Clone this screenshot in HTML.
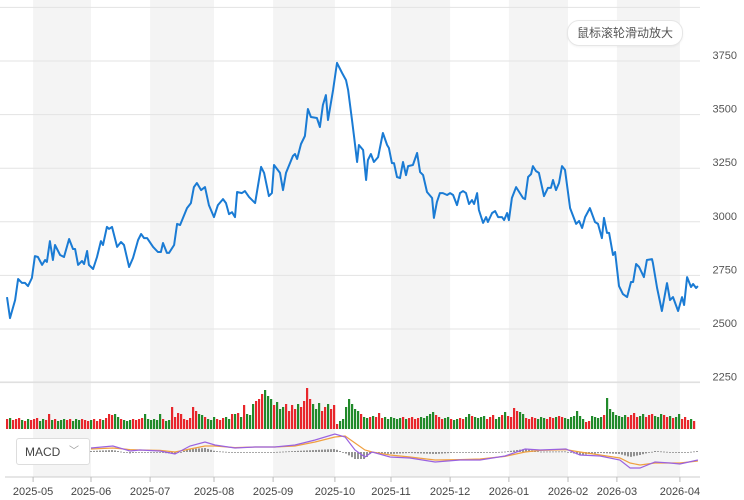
<!DOCTYPE html>
<html><head><meta charset="utf-8">
<style>
html,body{margin:0;padding:0;background:#fff;}
body{width:744px;height:500px;overflow:hidden;position:relative;font-family:"Liberation Sans","Noto Sans CJK SC",sans-serif;}
#zoom-hint{position:absolute;left:567px;top:20px;width:114px;height:24px;border:1px solid #e6e6e6;border-radius:12px;background:#fff;font-size:12px;color:#555;line-height:24px;text-align:center;box-shadow:0 1px 2px rgba(0,0,0,0.05);}
#macd-select{position:absolute;left:16px;top:438px;width:74px;height:27px;border:1px solid #ddd;border-radius:3px;background:#fff;font-size:12px;color:#444;line-height:27px;box-sizing:border-box;padding-left:8px;}
#macd-select span.chev{position:absolute;left:52px;top:-1px;color:#999;font-size:10px;}
</style></head>
<body>
<svg id="chart" width="744" height="500" style="position:absolute;left:0;top:0"></svg>
<div id="zoom-hint">鼠标滚轮滑动放大</div>
<div id="macd-select">MACD<span class="chev">﹀</span></div>
<script>
const monthLabels=["2025-05","2025-06","2025-07","2025-08","2025-09","2025-10","2025-11","2025-12","2026-01","2026-02","2026-03","2026-04"];
const monthDays=[8.7,28,47.7,69,88.7,109.3,128,147.7,167.3,187,203.3,224.3];
const priceTicks=[4000,3750,3500,3250,3000,2750,2500,2250];
const priceDays=[0,1,2.7,3.7,5,6,7,8.3,9.3,10.3,11.7,12.7,13.3,14.3,15.3,16,17.7,19,20.7,22,22.7,23.7,25,25.7,26.7,27.3,28.7,30,31.3,32,33.3,34,35,36.7,38,39,40.7,42,43.7,44.7,45.7,46.7,48.7,50.3,51.3,52,53.3,54,55.7,56.7,57.7,60,61.3,62.3,63.3,64.7,66,67.3,69,70.3,72,73,74,75,76,76.7,78.3,79.3,80.7,
82.7,84.7,85.7,87.3,88.3,89,91,92,93,95.3,96,96.7,98,99.3,100.3,101.3,103.3,104.3,105.3,106.3,107,108.7,110,111.7,113,113.7,115,115.7,116.7,117.3,118.7,119.7,120.3,121.3,122.3,123.7,125.3,126.7,127.3,128.3,129,130,131,132,133,133.7,135.3,136.7,137.7,138.7,140,141.7,142.3,143.3,144.3,145.3,146.7,147.7,148.7,150,151,152,153,154,155,155.7,156.7,157.3,158.7,159.7,160.3,
161.7,162.7,163.7,165,165.7,166.7,167.3,168.3,169.7,172,172.7,173.7,174.7,175.3,176.3,177.3,179,180.3,181.3,182,183,184,185,186,187.7,189.7,190.7,191.7,192.7,194.3,196,197,198.3,199,200,200.7,202,202.7,204,205.3,206.7,208,208.7,209.7,210.7,212.3,213.3,215,215.3,216.7,218.3,220,221,222,223.7,225,225.7,226.7,228,228.7,229.7,230.3];
const priceValues=[2649,2551,2635,2733,2715,2715,2700,2738,2840,2836,2799,2822,2813,2910,2822,2892,2845,2836,2920,2873,2873,2799,2817,2803,2864,2799,2780,2836,2910,2892,2976,2967,2976,2883,2906,2892,2789,2831,2915,2943,2924,2924,2883,2859,2859,2901,2855,2855,2892,2990,2985,3064,3087,3162,3181,3148,3162,3078,3022,3078,3106,3087,3036,3045,3022,3139,3134,3143,3115,
3087,3256,3228,3120,3134,3265,3228,3148,3228,3307,3316,3293,3363,3400,3526,3489,3484,3442,3545,3591,3475,3615,3741,3694,3661,3615,3475,3396,3279,3358,3335,3195,3288,3316,3279,3302,3414,3358,3344,3274,3274,3209,3204,3279,3218,3260,3265,3321,3232,3218,3139,3111,3018,3092,3134,3134,3125,3134,3125,3078,3134,3143,3134,3083,3101,3083,3134,3055,2995,3022,2999,
3041,3050,3022,3022,3008,3041,3008,3111,3162,3111,3106,3209,3223,3260,3237,3228,3120,3158,3158,3195,3148,3181,3260,3242,3064,2990,3004,2971,3022,3064,2999,2990,2924,3018,2948,2948,2845,2859,2700,2663,2649,2719,2719,2803,2789,2742,2822,2826,2808,2691,2584,2714,2635,2649,2584,2649,2612,2742,2696,2710,2691,2700];
const volumeValues=[10,11,9,10,11,9,8,10,9,10,11,8,10,9,15,9,10,8,9,10,9,10,8,10,9,10,9,8,9,10,8,10,9,11,15,14,15,12,10,9,8,9,10,9,10,11,15,10,9,10,9,15,10,8,9,22,12,16,15,10,9,11,22,18,15,14,12,10,9,12,10,9,11,12,10,15,15,16,12,24,15,14,25,28,30,35,39,33,30,24,27,20,22,25,18,24,20,25,22,28,41,30,25,20,26,18,22,25,20,24,5,8,10,22,30,25,20,18,15,12,11,12,13,12,16,11,12,10,12,11,10,11,12,10,11,12,10,11,12,11,13,15,17,14,12,10,11,12,10,9,10,11,10,12,15,13,12,11,12,13,10,12,14,10,12,14,17,13,12,21,18,17,15,11,10,12,11,10,12,11,10,12,11,12,13,12,11,10,12,13,18,13,10,7,8,13,12,11,12,14,31,20,17,14,13,12,14,12,14,16,12,13,15,12,14,15,13,12,15,14,12,13,11,12,15,10,12,9,10,8];
const macdDays=[28,35.3,41,44.3,51,56,61,66,69.3,76,82.7,89.3,96,102.7,109.3,112.7,116,119.3,121.7,127.7,134.3,142.7,151,157.7,166,172.7,177.7,186.3,191,197.7,204.3,207.7,211,216,221,224.3,230.3];
const difValues=[20,30,5,10,5,-10,30,50,35,20,25,25,35,60,90,75,10,-25,0,-25,-30,-50,-40,-40,-20,15,10,15,-15,-20,-40,-80,-80,-50,-55,-60,-40];
const deaValues=[15,20,12,10,8,0,15,30,30,22,25,25,30,50,75,80,45,10,0,-15,-25,-40,-38,-35,-22,0,8,12,0,-15,-30,-55,-65,-55,-55,-55,-45];

const svg=document.getElementById('chart');
const NS='http://www.w3.org/2000/svg';
function mk(tag,attrs,parent){const e=document.createElementNS(NS,tag);for(const k in attrs)e.setAttribute(k,attrs[k]);(parent||svg).appendChild(e);return e;}
const xS=d=>7+3*d;
const yP=p=>61+(3750-p)/250*53.6;
const volBase=429, volScale=1;
const yV=v=>volBase-v*volScale;
const macdZero=452;
const yM=v=>macdZero-v/5;
function interp(d,xs,ys){if(d<=xs[0])return ys[0];for(let i=1;i<xs.length;i++){if(d<=xs[i]){const t=(d-xs[i-1])/(xs[i]-xs[i-1]);return ys[i-1]+t*(ys[i]-ys[i-1]);}}return ys[ys.length-1];}

for(let i=0;i+1<monthDays.length;i+=2){
  const r=mk('rect',{x:xS(monthDays[i]),y:0,width:xS(monthDays[i+1])-xS(monthDays[i]),height:477,fill:'#f4f4f4'});
  
  
}
priceTicks.forEach(p=>{
  const y=yP(p);
  const l=mk('line',{x1:0,x2:700,y1:y,y2:y,stroke:'#e3e3e3','stroke-width':1});
  
  
  if(p<4000){
    const t=mk('text',{x:737,y:y-2,'text-anchor':'end','font-size':11,fill:'#555'});
    t.textContent=p;
    
    
  }
});
let dStr='';
priceDays.forEach((d,i)=>{dStr+=(i?'L':'M')+xS(d).toFixed(1)+','+yP(priceValues[i]).toFixed(1);});
const pl=mk('path',{d:dStr,fill:'none',stroke:'#1a7bd4','stroke-width':2,'stroke-linejoin':'round'});


volumeValues.forEach((v,i)=>{
  const up=interp(i,priceDays,priceValues)>=interp(i-1,priceDays,priceValues);
  const b=mk('rect',{x:xS(i)-1,y:yV(v),width:2.2,height:v*volScale,fill:up?'#e8262b':'#218a2a'});
  
  
});
for(let d=Math.ceil(macdDays[0]);d<=230;d++){
  const h=(interp(d,macdDays,difValues)-interp(d,macdDays,deaValues))/5;
  const hb=mk('rect',{x:xS(d)-0.7,y:Math.min(macdZero,macdZero-h),width:1.4,height:Math.max(0.8,Math.abs(h)),fill:'#666'});
  
  
}
function line(vals,color,name){
  let s='';macdDays.forEach((d,i)=>{s+=(i?'L':'M')+xS(d).toFixed(1)+','+yM(vals[i]).toFixed(1);});
  const p=mk('path',{d:s,fill:'none',stroke:color,'stroke-width':1.2});
  
  
}
line(deaValues,'#f0a040','macd-dea-line');
line(difValues,'#9a62e0','macd-dif-line');
const s1=mk('line',{x1:0,x2:700,y1:382,y2:382,stroke:'#ddd','stroke-width':1});


const ax=mk('line',{x1:5,x2:700,y1:477,y2:477,stroke:'#ccc','stroke-width':1});


monthDays.forEach((d,i)=>{
  const tk=mk('line',{x1:xS(d),x2:xS(d),y1:477,y2:482,stroke:'#bbb'});
  
  
  const t=mk('text',{x:xS(d),y:495,'text-anchor':'middle','font-size':11,fill:'#444'});
  t.textContent=monthLabels[i];
  
  
});
</script>
</body></html>
